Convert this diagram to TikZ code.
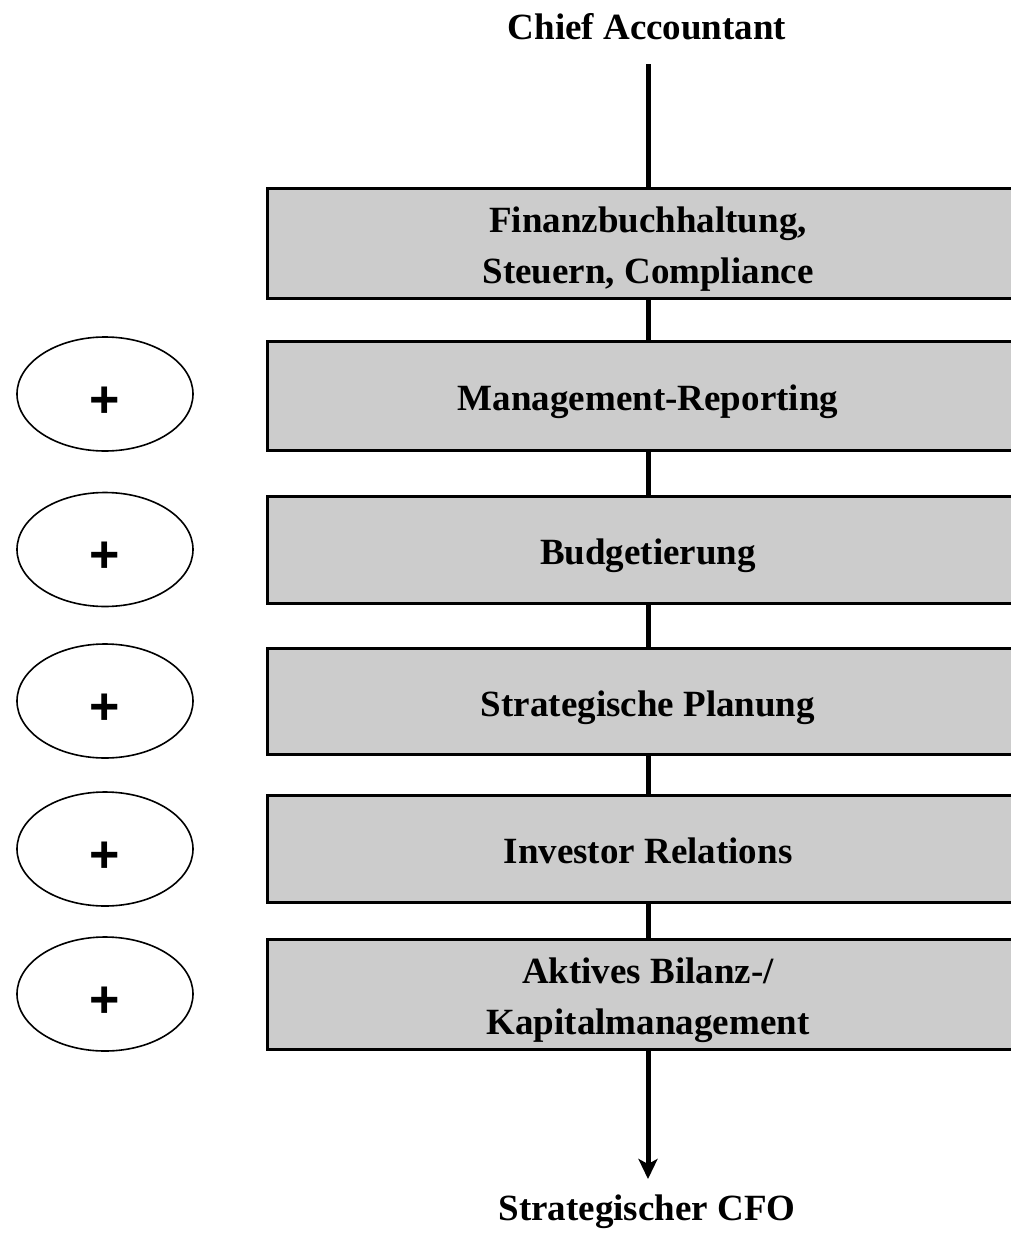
\documentclass[tikz,border=0pt]{standalone}
\usepackage{fontspec}
\setmainfont{Liberation Serif}
\newfontfamily\plusfont{Liberation Sans}
\usetikzlibrary{shapes.geometric,arrows.meta}
\newcommand{\boxtext}[1]{\raisebox{-5pt}[\height][\depth]{\begin{tabular}{@{}c@{}}#1\end{tabular}}}
\newcommand{\plustext}{\raisebox{-8pt}[\height][\depth]{+}}
\begin{document}
\begin{tikzpicture}[x=1pt,y=-1pt,
  lbl/.style={font=\fontsize{37}{51}\selectfont\bfseries, align=center, inner sep=0pt},
  boxnode/.style={draw=black, line width=3pt, fill=black!20, minimum width=762pt,
     font=\fontsize{37}{51}\selectfont\bfseries, inner sep=0pt},
  plusnode/.style={ellipse, draw=black, line width=1.6pt, minimum width=176pt, minimum height=114pt,
     inner sep=0pt, font=\fontsize{52}{52}\selectfont\plusfont\bfseries},
  conn/.style={line width=5pt, draw=black}
]
\useasboundingbox (0,0) rectangle (1010,1242);

\node[lbl] (chief) at (647,27) {Chief Accountant};
\node[lbl] (cfo) at (647,1212) {Strategischer CFO};
\coordinate (start) at (648,64);
\coordinate (tip) at (648,1179);

\node[boxnode, minimum height=110pt] (b1) at (648,243) {\boxtext{Finanzbuchhaltung,\\Steuern, Compliance}};
\node[boxnode, minimum height=109pt] (b2) at (648,395.5) {\boxtext{Management-Reporting}};
\node[boxnode, minimum height=107pt] (b3) at (648,549.5) {\boxtext{Budgetierung}};
\node[boxnode, minimum height=106pt] (b4) at (648,701) {\boxtext{Strategische Planung}};
\node[boxnode, minimum height=107pt] (b5) at (648,848.5) {\boxtext{Investor Relations}};
\node[boxnode, minimum height=110pt] (b6) at (648,994) {\boxtext{Aktives Bilanz-/\\Kapitalmanagement}};

\draw[conn] (start) -- (b1.north);
\draw[conn] (b1.south) -- (b2.north);
\draw[conn] (b2.south) -- (b3.north);
\draw[conn] (b3.south) -- (b4.north);
\draw[conn] (b4.south) -- (b5.north);
\draw[conn] (b5.south) -- (b6.north);
\draw[conn, -{Stealth[length=20pt,width=19pt,inset=5pt]}] (b6.south) -- (tip);

\node[plusnode] (e2) at (105,394) {\plustext};
\node[plusnode] (e3) at (105,549.5) {\plustext};
\node[plusnode] (e4) at (105,701) {\plustext};
\node[plusnode] (e5) at (105,849) {\plustext};
\node[plusnode] (e6) at (105,994) {\plustext};
\end{tikzpicture}
\end{document}
